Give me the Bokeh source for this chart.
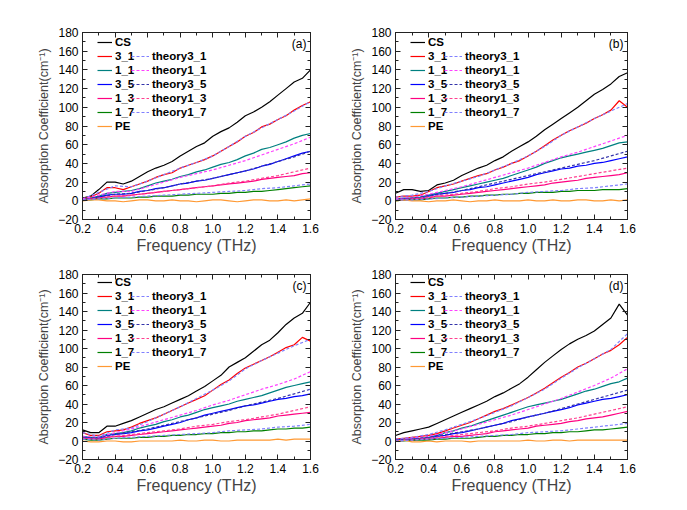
from bokeh.plotting import figure
from bokeh.layouts import column, row
from bokeh.models import (Range1d, LinearAxis, SingleIntervalTicker, PrintfTickFormatter,
                          Legend, LegendItem, Label, CustomLabelingPolicy)
from bokeh.embed import file_html
from bokeh.resources import INLINE

# ---------------- data ----------------
FREQ = [0.20, 0.25, 0.30, 0.35, 0.40, 0.45, 0.50, 0.55, 0.60, 0.65, 0.70, 0.75, 0.80, 0.85,
        0.90, 0.95, 1.00, 1.05, 1.10, 1.15, 1.20, 1.25, 1.30, 1.35, 1.40, 1.45, 1.50, 1.55, 1.60]
FREQ_T = [0.2, 0.3, 0.4, 0.5, 0.6, 0.7, 0.8, 0.9, 1.0, 1.1, 1.2, 1.3, 1.4, 1.5, 1.6]

# panel (a)
CS_A  = [3, 5, 12, 20, 20, 18, 21, 26, 31, 35, 38, 42, 48, 53, 58, 62, 69, 74, 78, 84, 91, 95, 100, 106, 113, 120, 127, 131, 140]
S31_A = [2, 4, 8, 14, 14, 12, 15, 18, 21, 25, 28, 30, 35, 38, 41, 44, 48, 53, 58, 63, 69, 73, 79, 82, 87, 91, 97, 102, 106]
S11_A = [2, 3, 5, 8, 9, 10, 11, 13, 16, 19, 21, 23, 26, 28, 31, 33, 36, 39, 41, 44, 48, 51, 55, 57, 60, 63, 67, 70, 72]
S35_A = [1, 2, 4, 6, 7, 7, 8, 10, 11, 13, 14, 16, 18, 19, 21, 22, 24, 26, 28, 30, 32, 34, 37, 39, 42, 45, 48, 51, 53]
S13_A = [1, 2, 3, 4, 5, 5, 6, 7, 8, 9, 10, 11, 12, 13, 14, 15, 16, 17, 18, 19, 20, 21, 23, 24, 25, 26, 27, 29, 30]
S17_A = [1, 1, 2, 2, 3, 3, 3, 4, 4, 5, 5, 5, 6, 6, 7, 7, 7, 8, 8, 9, 9, 10, 10, 11, 12, 13, 14, 15, 16]
PE_A  = [0, 1, 1, 0, 0, -1, 0, 1, 1, 0, 0, 1, 0, 0, -1, 0, 1, 1, 0, -1, 0, 1, 1, 0, 0, 1, 0, 1, 2]
T31_A = [2, 9, 16, 15, 21, 28, 35, 41, 48, 58, 69, 78, 87, 96, 106]
T11_A = [2, 6, 10, 10, 15, 20, 25, 29, 33, 38, 43, 49, 55, 61, 68]
T35_A = [1, 4, 7, 8, 11, 14, 18, 21, 24, 28, 32, 37, 42, 47, 53]
T13_A = [1, 3, 5, 6, 8, 10, 12, 14, 16, 19, 21, 24, 27, 31, 35]
T17_A = [1, 2, 3, 4, 5, 6, 7, 8, 9, 10, 11, 13, 14, 16, 18]

# panel (b)
CS_B  = [8, 12, 12, 10, 11, 17, 19, 22, 27, 31, 35, 38, 43, 47, 53, 58, 63, 69, 76, 82, 88, 94, 100, 107, 114, 119, 125, 133, 137]
S31_B = [4, 5, 5, 6, 10, 14, 16, 18, 21, 24, 27, 29, 33, 36, 40, 43, 48, 53, 59, 65, 70, 75, 79, 83, 88, 92, 97, 107, 100]
S11_B = [2, 3, 3, 4, 6, 8, 10, 12, 14, 16, 18, 20, 22, 24, 27, 30, 33, 36, 40, 43, 46, 48, 50, 52, 54, 56, 59, 62, 63]
S35_B = [1, 2, 2, 3, 5, 7, 8, 9, 11, 12, 14, 15, 17, 19, 21, 23, 25, 28, 30, 32, 34, 35, 37, 38, 40, 41, 43, 45, 47]
S13_B = [1, 1, 2, 2, 3, 5, 5, 6, 7, 8, 9, 10, 11, 12, 13, 14, 15, 16, 17, 19, 20, 21, 22, 24, 25, 26, 27, 28, 30]
S17_B = [0, 1, 1, 1, 2, 3, 3, 4, 4, 5, 5, 6, 6, 7, 7, 8, 8, 9, 9, 9, 10, 10, 11, 11, 11, 12, 12, 12, 13]
PE_B  = [0, 1, 0, 0, -1, 0, 0, 1, 0, -1, 0, 0, 1, 0, 0, 0, 1, 0, 0, 1, 0, 0, 1, 1, 0, 0, 1, 0, 1]
T31_B = [4, 6, 10, 16, 21, 26, 33, 40, 48, 58, 70, 79, 88, 96, 104]
T11_B = [2, 4, 7, 11, 15, 20, 25, 30, 35, 41, 47, 52, 58, 64, 70]
T35_B = [1, 3, 5, 8, 11, 15, 19, 23, 27, 31, 35, 39, 43, 48, 53]
T13_B = [1, 2, 4, 6, 8, 10, 13, 15, 18, 20, 23, 26, 29, 32, 35]
T17_B = [1, 1, 2, 3, 4, 5, 6, 7, 9, 10, 11, 13, 14, 16, 18]

# panel (c)
CS_C  = [12, 9, 9, 16, 16, 19, 22, 26, 30, 34, 37, 41, 45, 49, 54, 59, 65, 71, 80, 85, 90, 97, 104, 109, 117, 126, 133, 138, 150]
S31_C = [9, 6, 6, 10, 11, 12, 15, 19, 22, 25, 29, 33, 37, 41, 45, 49, 55, 61, 66, 73, 79, 83, 87, 91, 96, 101, 104, 112, 108]
S11_C = [5, 4, 4, 7, 8, 9, 11, 14, 16, 18, 21, 23, 26, 28, 31, 34, 36, 38, 40, 43, 45, 47, 49, 52, 55, 58, 60, 62, 64]
S35_C = [4, 3, 3, 6, 7, 8, 9, 11, 12, 14, 16, 18, 20, 23, 25, 28, 30, 32, 34, 36, 38, 39, 41, 43, 45, 46, 48, 49, 51]
S13_C = [3, 2, 2, 4, 5, 5, 6, 7, 8, 9, 10, 11, 12, 13, 14, 15, 16, 17, 19, 20, 22, 23, 24, 25, 27, 28, 29, 30, 31]
S17_C = [2, 1, 1, 2, 3, 3, 3, 4, 4, 5, 5, 6, 6, 7, 7, 8, 8, 9, 9, 10, 10, 11, 11, 12, 13, 13, 14, 14, 15]
PE_C  = [0, -1, -1, 0, 0, -1, -1, 0, 0, 0, 0, 0, 1, 0, 0, 1, 1, 0, 0, 1, 1, 1, 1, 1, 2, 1, 2, 2, 2]
T31_C = [9, 5, 12, 14, 21, 29, 37, 46, 55, 65, 78, 87, 95, 103, 110]
T11_C = [5, 4, 9, 13, 18, 23, 28, 33, 39, 44, 50, 56, 61, 67, 75]
T35_C = [4, 3, 7, 10, 13, 17, 21, 25, 29, 33, 38, 42, 46, 51, 56]
T13_C = [3, 2, 5, 7, 9, 11, 13, 16, 18, 21, 23, 26, 29, 33, 37]
T17_C = [2, 1, 3, 4, 5, 6, 7, 8, 9, 11, 12, 13, 15, 16, 18]

# panel (d)
CS_D  = [6, 9, 11, 13, 15, 19, 23, 27, 31, 35, 39, 43, 48, 52, 57, 62, 69, 77, 85, 92, 99, 105, 110, 114, 119, 126, 133, 148, 136]
S31_D = [2, 3, 4, 5, 6, 8, 11, 14, 17, 20, 24, 28, 32, 35, 39, 43, 47, 52, 57, 63, 69, 74, 80, 84, 89, 94, 98, 104, 112]
S11_D = [1, 2, 2, 3, 4, 6, 9, 11, 14, 16, 19, 22, 25, 28, 31, 34, 37, 39, 41, 43, 45, 48, 51, 54, 56, 59, 62, 64, 68]
S35_D = [1, 1, 2, 2, 3, 5, 6, 8, 9, 11, 13, 15, 17, 19, 22, 24, 26, 28, 30, 32, 34, 36, 39, 41, 43, 45, 46, 48, 50]
S13_D = [0, 1, 1, 2, 2, 3, 4, 5, 5, 6, 7, 8, 10, 11, 12, 13, 14, 16, 17, 18, 19, 21, 22, 24, 25, 26, 28, 30, 32]
S17_D = [0, 0, 1, 1, 1, 2, 2, 3, 3, 3, 4, 5, 5, 6, 6, 7, 7, 8, 8, 9, 9, 10, 10, 11, 12, 12, 13, 14, 15]
PE_D  = [0, 1, -1, -1, 0, -1, 0, 0, 0, -1, 0, 0, 0, 0, 0, 0, 1, 0, 0, 1, 1, 0, 1, 1, 1, 1, 1, 1, 1]
T31_D = [2, 4, 7, 12, 18, 24, 31, 38, 47, 56, 68, 79, 89, 99, 116]
T11_D = [1, 3, 5, 9, 13, 18, 23, 28, 34, 40, 46, 53, 60, 68, 78]
T35_D = [1, 2, 4, 7, 10, 13, 17, 21, 26, 30, 35, 40, 45, 50, 55]
T13_D = [0, 1, 3, 5, 7, 9, 11, 14, 16, 19, 22, 25, 29, 33, 37]
T17_D = [0, 1, 2, 3, 4, 5, 6, 7, 9, 10, 11, 13, 15, 17, 19]

EXP_NAMES = ["CS", "3_1", "1_1", "3_5", "1_3", "1_7", "PE"]
TH_NAMES = ["theory3_1", "theory1_1", "theory3_5", "theory1_3", "theory1_7"]
EXP_COLORS = ["#000000", "#FF0000", "#008080", "#0000FF", "#FF0080", "#008000", "#FF9933"]
TH_COLORS = ["#8080FF", "#FF40FF", "#3333AA", "#FF4090", "#8080FF"]

PANELS = [
    ("(a)", [CS_A, S31_A, S11_A, S35_A, S13_A, S17_A, PE_A], [T31_A, T11_A, T35_A, T13_A, T17_A]),
    ("(b)", [CS_B, S31_B, S11_B, S35_B, S13_B, S17_B, PE_B], [T31_B, T11_B, T35_B, T13_B, T17_B]),
    ("(c)", [CS_C, S31_C, S11_C, S35_C, S13_C, S17_C, PE_C], [T31_C, T11_C, T35_C, T13_C, T17_C]),
    ("(d)", [CS_D, S31_D, S11_D, S35_D, S13_D, S17_D, PE_D], [T31_D, T11_D, T35_D, T13_D, T17_D]),
]

FONT = "Liberation Sans"
AX = "#222222"


def style_axis(ax, show_labels):
    ax.axis_line_color = AX
    ax.major_tick_line_color = AX
    ax.minor_tick_line_color = AX
    ax.major_tick_in = 5
    ax.major_tick_out = 0
    ax.minor_tick_in = 3
    ax.minor_tick_out = 0
    if show_labels:
        ax.major_label_text_font = FONT
        ax.major_label_text_font_size = "12px"
        ax.major_label_text_color = "#000000"
        ax.major_label_standoff = 4
    else:
        ax.major_label_policy = CustomLabelingPolicy(code="return []")
        ax.major_label_standoff = 0
        ax.axis_label = None


def make_panel(tag, exps, ths, width, height, bl, br, bt, bb):
    p = figure(width=width, height=height, x_range=Range1d(0.2, 1.6), y_range=Range1d(-20, 180),
               output_backend="svg", toolbar_location=None,
               min_border_left=bl, min_border_right=br, min_border_top=bt, min_border_bottom=bb)
    p.xgrid.grid_line_color = None
    p.ygrid.grid_line_color = None
    p.outline_line_color = AX
    p.background_fill_color = "white"
    p.border_fill_color = "white"

    p.xaxis.ticker = SingleIntervalTicker(interval=0.2, num_minor_ticks=2)
    p.yaxis.ticker = SingleIntervalTicker(interval=20, num_minor_ticks=2)
    p.xaxis.formatter = PrintfTickFormatter(format="%.1f")
    for ax in p.xaxis + p.yaxis:
        style_axis(ax, True)
    p.xaxis.axis_label = "Frequency (THz)"
    p.yaxis.axis_label = "Absorption Coefficient(cm\u207b\u00b9)"
    p.xaxis.axis_label_text_font = FONT
    p.yaxis.axis_label_text_font = FONT
    p.xaxis.axis_label_text_font_style = "normal"
    p.yaxis.axis_label_text_font_style = "normal"
    p.xaxis.axis_label_text_font_size = "16px"
    p.yaxis.axis_label_text_font_size = "12.5px"
    p.xaxis.axis_label_standoff = 1
    p.yaxis.axis_label_standoff = 4

    top = LinearAxis(ticker=SingleIntervalTicker(interval=0.2, num_minor_ticks=2))
    right = LinearAxis(ticker=SingleIntervalTicker(interval=20, num_minor_ticks=2))
    style_axis(top, False)
    style_axis(right, False)
    p.add_layout(top, "above")
    p.add_layout(right, "right")

    exp_r = []
    for ys, c in zip(exps, EXP_COLORS):
        exp_r.append(p.line(FREQ, ys, line_color=c, line_width=1.2))
    th_r = []
    for ys, c in zip(ths, TH_COLORS):
        th_r.append(p.line(FREQ_T, ys, line_color=c, line_width=1.2, line_dash="3 2"))

    common = dict(border_line_color=None, background_fill_alpha=0, padding=0, margin=0,
                  spacing=0, glyph_height=14, label_height=14,
                  label_text_font=FONT, label_text_font_style="bold",
                  label_text_font_size="11.5px", label_text_color="#000000")
    leg1 = Legend(items=[LegendItem(label=n, renderers=[r]) for n, r in zip(EXP_NAMES, exp_r)],
                  location=(15, 86), glyph_width=15, label_standoff=3, **common)
    leg2 = Legend(items=[LegendItem(label=n, renderers=[r]) for n, r in zip(TH_NAMES, th_r)],
                  location=(49, 100), glyph_width=18, label_standoff=3, **common)
    p.add_layout(leg1)
    p.add_layout(leg2)

    p.add_layout(Label(x=1.6, y=168, x_offset=-4, text=tag, text_align="right",
                       text_baseline="middle", text_font=FONT, text_font_size="12px",
                       text_color="#000000"))
    return p


pa = make_panel(PANELS[0][0], PANELS[0][1], PANELS[0][2], 332, 263, 82, 4, 32, 44)
pb = make_panel(PANELS[1][0], PANELS[1][1], PANELS[1][2], 317, 263, 63, 8, 32, 44)
pc = make_panel(PANELS[2][0], PANELS[2][1], PANELS[2][2], 332, 238, 82, 4, 9, 42)
pd_ = make_panel(PANELS[3][0], PANELS[3][1], PANELS[3][2], 317, 238, 63, 8, 9, 42)

layout = column(row(pa, pb), row(pc, pd_))
open("out.html", "w").write(file_html(layout, INLINE))
